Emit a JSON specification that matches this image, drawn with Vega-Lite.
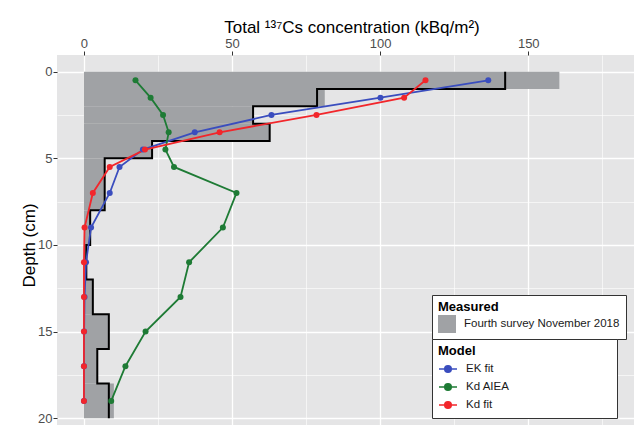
{
  "$schema": "https://vega.github.io/schema/vega-lite/v6.json",
  "autosize": {"type": "none"},
  "padding": {"left": 57, "top": 55, "right": 0, "bottom": 0},
  "width": 577,
  "height": 370,
  "background": "white",
  "config": {
    "font": "Liberation Sans",
    "view": {"fill": "#E5E5E6", "stroke": null},
    "axis": {
      "gridColor": "white",
      "domain": false,
      "tickColor": "#333333",
      "tickSize": 4,
      "labelColor": "#4D4D4D",
      "labelFontSize": 13,
      "titleFontWeight": "normal",
      "titleColor": "black"
    }
  },
  "datasets": {
    "measured": [
      {"top": 0, "bottom": 1, "value": 160.5, "survey": "Fourth survey November 2018"},
      {"top": 1, "bottom": 2, "value": 81.3, "survey": "Fourth survey November 2018"},
      {"top": 2, "bottom": 3, "value": 57.1, "survey": "Fourth survey November 2018"},
      {"top": 3, "bottom": 4, "value": 62.7, "survey": "Fourth survey November 2018"},
      {"top": 4, "bottom": 5, "value": 23.0, "survey": "Fourth survey November 2018"},
      {"top": 5, "bottom": 8, "value": 7.0, "survey": "Fourth survey November 2018"},
      {"top": 8, "bottom": 10, "value": 2.1, "survey": "Fourth survey November 2018"},
      {"top": 10, "bottom": 12, "value": 0.8, "survey": "Fourth survey November 2018"},
      {"top": 12, "bottom": 14, "value": 3.0, "survey": "Fourth survey November 2018"},
      {"top": 14, "bottom": 16, "value": 8.4, "survey": "Fourth survey November 2018"},
      {"top": 16, "bottom": 18, "value": 4.5, "survey": "Fourth survey November 2018"},
      {"top": 18, "bottom": 20, "value": 10.1, "survey": "Fourth survey November 2018"}
    ],
    "step": [
      {"depth": 0, "value": 142.2},
      {"depth": 1, "value": 78.7},
      {"depth": 2, "value": 57.1},
      {"depth": 3, "value": 62.7},
      {"depth": 4, "value": 23.0},
      {"depth": 5, "value": 7.0},
      {"depth": 8, "value": 2.1},
      {"depth": 10, "value": 0.8},
      {"depth": 12, "value": 3.0},
      {"depth": 14, "value": 8.4},
      {"depth": 16, "value": 4.5},
      {"depth": 18, "value": 8.4},
      {"depth": 20, "value": 8.4}
    ],
    "model": [
      {"model": "EK fit", "depth": 0.5, "value": 136.5},
      {"model": "EK fit", "depth": 1.5, "value": 100.1},
      {"model": "EK fit", "depth": 2.5, "value": 63.3},
      {"model": "EK fit", "depth": 3.5, "value": 37.4},
      {"model": "EK fit", "depth": 4.5, "value": 19.9},
      {"model": "EK fit", "depth": 5.5, "value": 12.0},
      {"model": "EK fit", "depth": 7, "value": 8.7},
      {"model": "EK fit", "depth": 9, "value": 2.4},
      {"model": "EK fit", "depth": 11, "value": 0.7},
      {"model": "EK fit", "depth": 13, "value": 0.2},
      {"model": "EK fit", "depth": 15, "value": 0.05},
      {"model": "EK fit", "depth": 17, "value": 0.01},
      {"model": "EK fit", "depth": 19, "value": 0.0},
      {"model": "Kd AIEA", "depth": 0.5, "value": 17.4},
      {"model": "Kd AIEA", "depth": 1.5, "value": 22.5},
      {"model": "Kd AIEA", "depth": 2.5, "value": 26.7},
      {"model": "Kd AIEA", "depth": 3.5, "value": 28.6},
      {"model": "Kd AIEA", "depth": 4.5, "value": 27.5},
      {"model": "Kd AIEA", "depth": 5.5, "value": 30.4},
      {"model": "Kd AIEA", "depth": 7, "value": 51.5},
      {"model": "Kd AIEA", "depth": 9, "value": 46.9},
      {"model": "Kd AIEA", "depth": 11, "value": 35.5},
      {"model": "Kd AIEA", "depth": 13, "value": 32.6},
      {"model": "Kd AIEA", "depth": 15, "value": 20.8},
      {"model": "Kd AIEA", "depth": 17, "value": 14.0},
      {"model": "Kd AIEA", "depth": 19, "value": 9.2},
      {"model": "Kd fit", "depth": 0.5, "value": 115.3},
      {"model": "Kd fit", "depth": 1.5, "value": 108.1},
      {"model": "Kd fit", "depth": 2.5, "value": 78.5},
      {"model": "Kd fit", "depth": 3.5, "value": 45.8},
      {"model": "Kd fit", "depth": 4.5, "value": 20.6},
      {"model": "Kd fit", "depth": 5.5, "value": 8.7},
      {"model": "Kd fit", "depth": 7, "value": 3.0},
      {"model": "Kd fit", "depth": 9, "value": 0.2},
      {"model": "Kd fit", "depth": 11, "value": 0.0},
      {"model": "Kd fit", "depth": 13, "value": 0.0},
      {"model": "Kd fit", "depth": 15, "value": 0.0},
      {"model": "Kd fit", "depth": 17, "value": 0.0},
      {"model": "Kd fit", "depth": 19, "value": 0.0}
    ]
  },
  "layer": [
    {
      "data": {"name": "measured"},
      "mark": {"type": "rect"},
      "encoding": {
        "x": {
          "field": "value", "type": "quantitative",
          "scale": {"domain": [-9.1, 185.7], "nice": false, "zero": false},
          "axis": {
            "orient": "top",
            "title": "Total ¹³⁷Cs concentration (kBq/m²)",
            "titleFontSize": 17,
            "titleX": 294.5,
            "titleY": -23,
            "titleAlign": "center",
            "titleBaseline": "alphabetic",
            "values": [0, 25, 50, 75, 100, 125, 150, 175],
            "labelExpr": "datum.value % 50 === 0 ? datum.label : ''",
            "labelPadding": 1,
            "tickOpacity": {"condition": {"test": "datum.value % 50 !== 0", "value": 0}, "value": 1},
            "gridWidth": {"condition": {"test": "datum.value % 50 !== 0", "value": 0.6}, "value": 1.3}
          }
        },
        "x2": {"datum": 0},
        "y": {
          "field": "top", "type": "quantitative",
          "scale": {"domain": [-0.96, 20.39], "nice": false, "zero": false, "reverse": true},
          "axis": {
            "title": "Depth (cm)",
            "titleFontSize": 17,
            "titleX": -23,
            "titleY": 190,
            "titleAlign": "center",
            "titleBaseline": "alphabetic",
            "titleAngle": 270,
            "values": [0, 2.5, 5, 7.5, 10, 12.5, 15, 17.5, 20],
            "labelExpr": "datum.value % 5 === 0 ? datum.label : ''",
            "labelPadding": 1,
            "tickOpacity": {"condition": {"test": "datum.value % 5 !== 0", "value": 0}, "value": 1},
            "gridWidth": {"condition": {"test": "datum.value % 5 !== 0", "value": 0.6}, "value": 1.3}
          }
        },
        "y2": {"field": "bottom"},
        "fill": {
          "field": "survey", "type": "nominal",
          "scale": {"range": ["#A0A2A5"]},
          "legend": {
            "title": "Measured",
            "orient": "none",
            "legendX": 375,
            "legendY": 240,
            "padding": 6,
            "fillColor": "white",
            "strokeColor": "#333333",
            "titleFontSize": 13,
            "titleFontWeight": "bold",
            "titleColor": "black",
            "titlePadding": 1,
            "titleLimit": 400,
            "labelFontSize": 11.5,
            "labelColor": "#1A1A1A",
            "labelOffset": 8,
            "labelLimit": 300,
            "symbolType": "square",
            "symbolSize": 324,
            "symbolStrokeWidth": 0
          }
        }
      }
    },
    {
      "data": {"name": "step"},
      "mark": {"type": "line", "interpolate": "step-before", "color": "black", "strokeWidth": 2},
      "encoding": {
        "x": {"field": "value", "type": "quantitative"},
        "y": {"field": "depth", "type": "quantitative"},
        "order": {"field": "depth", "type": "quantitative"}
      }
    },
    {
      "data": {"name": "model"},
      "mark": {"type": "line", "strokeWidth": 1.8},
      "encoding": {
        "x": {"field": "value", "type": "quantitative"},
        "y": {"field": "depth", "type": "quantitative"},
        "order": {"field": "depth", "type": "quantitative"},
        "color": {
          "field": "model", "type": "nominal",
          "scale": {"domain": ["EK fit", "Kd AIEA", "Kd fit"], "range": ["#3A4DBE", "#1E7B35", "#F2262B"]},
          "legend": {
            "title": "Model",
            "orient": "none",
            "legendX": 375,
            "legendY": 284,
            "padding": 6,
            "fillColor": "white",
            "strokeColor": "#333333",
            "titleFontSize": 13,
            "titleFontWeight": "bold",
            "titleColor": "black",
            "titlePadding": 1,
            "titleLimit": 400,
            "labelFontSize": 11.5,
            "labelColor": "#1A1A1A",
            "labelOffset": 8,
            "labelLimit": 300,
            "labelExpr": "pad(datum.label, datum.label == 'Kd AIEA' ? 18 : 19, '\u2800', 'right')",
            "rowPadding": 1,
            "symbolType": "M-1,0L1,0M-0.36,0A0.36,0.36,0,1,1,0.36,0A0.36,0.36,0,1,1,-0.36,0Z",
            "symbolSize": 324,
            "symbolStrokeWidth": 1.6,
            "encode": {
              "symbols": {
                "update": {
                  "fill": {"scale": "color", "field": "value"},
                  "stroke": {"scale": "color", "field": "value"},
                  "opacity": {"value": 1}
                }
              }
            }
          }
        }
      }
    },
    {
      "data": {"name": "model"},
      "mark": {"type": "point", "filled": true, "size": 36, "opacity": 1},
      "encoding": {
        "x": {"field": "value", "type": "quantitative"},
        "y": {"field": "depth", "type": "quantitative"},
        "color": {"field": "model", "type": "nominal"}
      }
    }
  ]
}
